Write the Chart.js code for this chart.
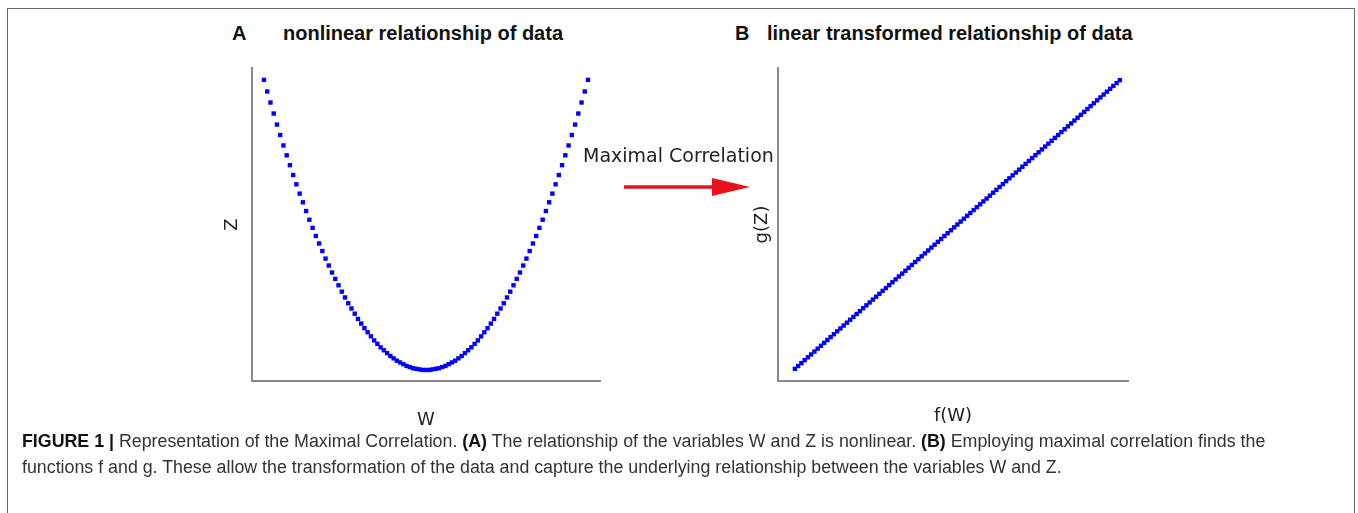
<!DOCTYPE html>
<html>
<head>
<meta charset="utf-8">
<script src="https://cdn.jsdelivr.net/npm/chart.js@4.4.1/dist/chart.umd.min.js"></script>
<style>
  body { margin:0; background:#fff; width:1358px; height:513px; overflow:hidden; position:relative; font-family:"DejaVu Sans", sans-serif; }
  #frame { position:absolute; left:7px; top:8px; width:1346px; height:540px; border:1.5px solid #6a6a6a; }
  canvas { position:absolute; }
  .ttl { position:absolute; top:21px; font:bold 20px "Liberation Sans", Arial, sans-serif; line-height:24px; color:#111; white-space:nowrap; }
  #maxcorr { position:absolute; left:583px; top:144px; font:19px "DejaVu Sans", sans-serif; line-height:22px; color:#222; white-space:nowrap; }
  #arrow { position:absolute; left:620px; top:175px; }
  .cap { position:absolute; left:22px; font:18px "Liberation Sans Narrow", "Liberation Sans", Arial, sans-serif; line-height:20px; color:#333; white-space:nowrap; transform-origin:0 50%; }
  .cap b { color:#111; }
</style>
</head>
<body>
<div id="frame"></div>

<div class="ttl" style="left:232px">A</div>
<div class="ttl" style="left:283px">nonlinear relationship of data</div>
<div class="ttl" style="left:735px">B</div>
<div class="ttl" style="left:767px">linear transformed relationship of data</div>

<canvas id="chartA" width="420" height="400" style="left:200px; top:60px"></canvas>
<canvas id="chartB" width="430" height="400" style="left:720px; top:60px"></canvas>

<div id="maxcorr">Maximal Correlation</div>
<svg id="arrow" width="135" height="26">
  <line x1="4" y1="12" x2="96" y2="12" stroke="#e8101a" stroke-width="3.5"/>
  <polygon points="92,3 130,12 92,21" fill="#e8101a"/>
</svg>

<div class="cap" id="cap1" style="top:431px"><b>FIGURE 1 |</b> Representation of the Maximal Correlation. <b>(A)</b> The relationship of the variables W and Z is nonlinear. <b>(B)</b> Employing maximal correlation finds the</div>
<div class="cap" id="cap2" style="top:457px">functions f and g. These allow the transformation of the data and capture the underlying relationship between the variables W and Z.</div>

<script>
// panel A : W vs Z
var W = [-1.00,-0.98,-0.96,-0.94,-0.92,-0.90,-0.88,-0.86,-0.84,-0.82,-0.80,-0.78,-0.76,-0.74,-0.72,-0.70,-0.68,-0.66,-0.64,-0.62,
         -0.60,-0.58,-0.56,-0.54,-0.52,-0.50,-0.48,-0.46,-0.44,-0.42,-0.40,-0.38,-0.36,-0.34,-0.32,-0.30,-0.28,-0.26,-0.24,-0.22,
         -0.20,-0.18,-0.16,-0.14,-0.12,-0.10,-0.08,-0.06,-0.04,-0.02,0.00,0.02,0.04,0.06,0.08,0.10,0.12,0.14,0.16,0.18,
         0.20,0.22,0.24,0.26,0.28,0.30,0.32,0.34,0.36,0.38,0.40,0.42,0.44,0.46,0.48,0.50,0.52,0.54,0.56,0.58,
         0.60,0.62,0.64,0.66,0.68,0.70,0.72,0.74,0.76,0.78,0.80,0.82,0.84,0.86,0.88,0.90,0.92,0.94,0.96,0.98,1.00];
var Z = [1.000,0.960,0.922,0.884,0.846,0.810,0.774,0.740,0.706,0.672,0.640,0.608,0.578,0.548,0.518,0.490,0.462,0.436,0.410,0.384,
         0.360,0.336,0.314,0.292,0.270,0.250,0.230,0.212,0.194,0.176,0.160,0.144,0.130,0.116,0.102,0.090,0.078,0.068,0.058,0.048,
         0.040,0.032,0.026,0.020,0.014,0.010,0.006,0.004,0.002,0.000,0.000,0.000,0.002,0.004,0.006,0.010,0.014,0.020,0.026,0.032,
         0.040,0.048,0.058,0.068,0.078,0.090,0.102,0.116,0.130,0.144,0.160,0.176,0.194,0.212,0.230,0.250,0.270,0.292,0.314,0.336,
         0.360,0.384,0.410,0.436,0.462,0.490,0.518,0.548,0.578,0.608,0.640,0.672,0.706,0.740,0.774,0.810,0.846,0.884,0.922,0.960,1.000];

// panel B : f(W) vs g(Z)
var fW = [0.00,0.01,0.02,0.03,0.04,0.05,0.06,0.07,0.08,0.09,0.10,0.11,0.12,0.13,0.14,0.15,0.16,0.17,0.18,0.19,
          0.20,0.21,0.22,0.23,0.24,0.25,0.26,0.27,0.28,0.29,0.30,0.31,0.32,0.33,0.34,0.35,0.36,0.37,0.38,0.39,
          0.40,0.41,0.42,0.43,0.44,0.45,0.46,0.47,0.48,0.49,0.50,0.51,0.52,0.53,0.54,0.55,0.56,0.57,0.58,0.59,
          0.60,0.61,0.62,0.63,0.64,0.65,0.66,0.67,0.68,0.69,0.70,0.71,0.72,0.73,0.74,0.75,0.76,0.77,0.78,0.79,
          0.80,0.81,0.82,0.83,0.84,0.85,0.86,0.87,0.88,0.89,0.90,0.91,0.92,0.93,0.94,0.95,0.96,0.97,0.98,0.99,1.00];
var gZ = [0.00,0.01,0.02,0.03,0.04,0.05,0.06,0.07,0.08,0.09,0.10,0.11,0.12,0.13,0.14,0.15,0.16,0.17,0.18,0.19,
          0.20,0.21,0.22,0.23,0.24,0.25,0.26,0.27,0.28,0.29,0.30,0.31,0.32,0.33,0.34,0.35,0.36,0.37,0.38,0.39,
          0.40,0.41,0.42,0.43,0.44,0.45,0.46,0.47,0.48,0.49,0.50,0.51,0.52,0.53,0.54,0.55,0.56,0.57,0.58,0.59,
          0.60,0.61,0.62,0.63,0.64,0.65,0.66,0.67,0.68,0.69,0.70,0.71,0.72,0.73,0.74,0.75,0.76,0.77,0.78,0.79,
          0.80,0.81,0.82,0.83,0.84,0.85,0.86,0.87,0.88,0.89,0.90,0.91,0.92,0.93,0.94,0.95,0.96,0.97,0.98,0.99,1.00];

function pares(xs, ys) {
  return xs.map(function (x, i) { return { x: x, y: ys[i] }; });
}

function eje(titulo, min, max, pad, tam) {
  return {
    type: 'linear', min: min, max: max,
    grid: { display: false, drawTicks: false },
    border: { display: true, color: '#8a8a8a', width: 2 },
    ticks: { display: false },
    title: { display: true, text: titulo, color: '#222', font: { family: 'DejaVu Sans', size: 18 }, padding: pad },
    afterFit: tam
  };
}

function dibujar(id, datos, sx, sy, derecha) {
  new Chart(document.getElementById(id), {
    type: 'scatter',
    data: {
      datasets: [{
        data: datos,
        pointStyle: 'rect',
        pointRadius: 3.1,
        backgroundColor: '#0000ff',
        borderColor: '#0000ff',
        borderWidth: 0
      }]
    },
    options: {
      responsive: false,
      animation: false,
      events: [],
      layout: { padding: { top: 8, right: derecha, left: 0, bottom: 0 } },
      plugins: { legend: { display: false }, tooltip: { enabled: false } },
      scales: { x: sx, y: sy }
    }
  });
}

Chart.defaults.font.family = 'DejaVu Sans';

dibujar('chartA', pares(W, Z),
  eje('W', -1.074, 1.074, { top: 0, bottom: 29 }, function (s) { s.height = 79; }),
  eje('Z', -0.038, 1.041, { top: 22, bottom: 0 }, function (s) { s.width = 52; }),
  20);

dibujar('chartB', pares(fW, gZ),
  eje('f(W)', -0.052, 1.025, { top: 0, bottom: 33 }, function (s) { s.height = 79; }),
  eje('g(Z)', -0.042, 1.042, { top: 32, bottom: 0 }, function (s) { s.width = 58; }),
  22);

// caption is set in a condensed face: squeeze it to the reference width
var c1 = document.getElementById('cap1'), c2 = document.getElementById('cap2');
var k = 1243 / c1.scrollWidth;
c1.style.transform = 'scaleX(' + k + ')';
c2.style.transform = 'scaleX(' + k + ')';
</script>
</body>
</html>
